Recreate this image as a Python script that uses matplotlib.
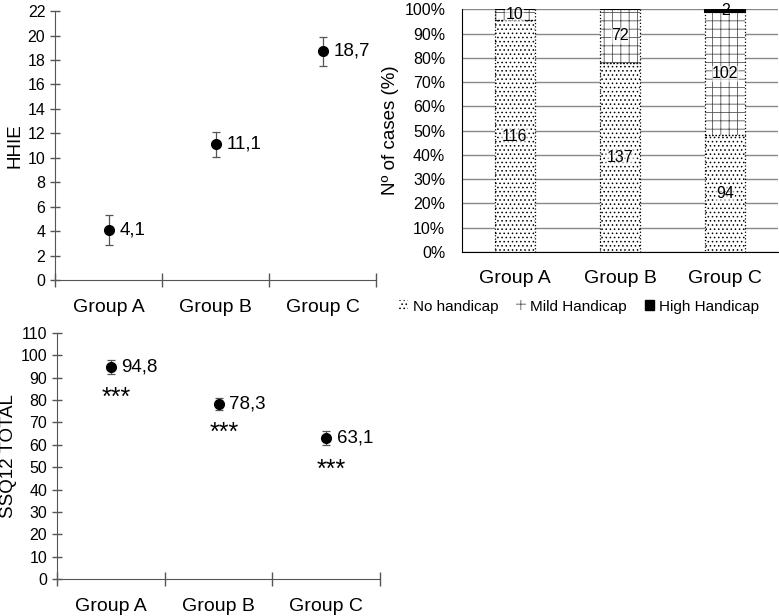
import numpy as np
import matplotlib
matplotlib.use('agg')
import matplotlib.pyplot as plt
from matplotlib.patches import Patch

plt.rcParams['font.family'] = ['Liberation Sans', 'DejaVu Sans']
plt.rcParams['hatch.linewidth'] = 0.6

groups = ['Group A', 'Group B', 'Group C']

# HHIE means and error
hhie_mean = [4.1, 11.1, 18.7]
hhie_err = [1.2, 1.0, 1.2]
hhie_lbl = ['4,1', '11,1', '18,7']

# SSQ12 total
ssq_mean = [94.8, 78.3, 63.1]
ssq_err = [3.0, 2.6, 3.0]
ssq_lbl = ['94,8', '78,3', '63,1']
ssq_star = [81, 65.5, 49]

# stacked percentages and case counts
pct_none = [95.5, 78.0, 48.0]
pct_mild = [4.5, 22.0, 51.0]
pct_high = [0.0, 0.0, 1.0]
n_none = ['116', '137', '94']
n_mild = ['10', '72', '102']
n_high = ['', '', '2']

fs_tick = 11.5
fs_grp = 14

fig = plt.figure(figsize=(7.79, 6.16), dpi=100)


def point_panel(ax, mean, err, lbls, ymax, ystep, ylabel):
    x = np.arange(len(groups)) + 0.5
    ax.errorbar(x, mean, yerr=err, fmt='o', color='k', ms=7,
                ecolor='#555555', elinewidth=0.9, capsize=3, capthick=0.9)
    for xi, yi, t in zip(x, mean, lbls):
        ax.text(xi + 0.1, yi, t, fontsize=13.5, va='center', ha='left')
    ax.set_xlim(0, 3)
    ax.set_ylim(0, ymax)
    ax.set_yticks(np.arange(0, ymax + 0.1, ystep))
    ax.set_xticks([0, 1, 2, 3])
    ax.set_xticklabels([])
    ax.set_xticks(x, minor=True)
    ax.set_xticklabels(groups, minor=True, fontsize=fs_grp)
    ax.tick_params(axis='x', which='minor', length=0, pad=14)
    ax.tick_params(axis='x', which='major', direction='inout', length=10,
                   color='#555555', width=1)
    ax.tick_params(axis='y', direction='inout', length=7, color='#555555',
                   width=1, labelsize=fs_tick)
    for s in ['top', 'right']:
        ax.spines[s].set_visible(False)
    for s in ['left', 'bottom']:
        ax.spines[s].set_color('#555555')
    ax.set_ylabel(ylabel, fontsize=13.5, labelpad=3)


ax1 = fig.add_axes([0.0706, 0.5455, 0.4121, 0.4365])
point_panel(ax1, hhie_mean, hhie_err, hhie_lbl, 22, 2, 'HHIE')

ax2 = fig.add_axes([0.0732, 0.06, 0.4146, 0.3994])
point_panel(ax2, ssq_mean, ssq_err, ssq_lbl, 110, 10, 'SSQ12 TOTAL')
for xi, yi in zip(np.arange(3) + 0.55, ssq_star):
    ax2.text(xi, yi, '***', fontsize=18, ha='center', va='center')

# stacked bar panel
ax3 = fig.add_axes([0.593, 0.591, 0.4057, 0.394])
xb = np.arange(3)
w = 0.38
bot = np.array(pct_none) + np.array(pct_mild)
# hatch fills (pattern only, no outline)
ax3.bar(xb, pct_none, w, color='white', edgecolor='k', hatch='....',
        linewidth=0, zorder=3)
ax3.bar(xb, pct_mild, w, bottom=pct_none, color='white', edgecolor='#555555',
        hatch='++', linewidth=0, zorder=3)
# dotted outlines
ax3.bar(xb, pct_none, w, fill=False, edgecolor='k', linestyle=':',
        linewidth=0.9, zorder=3)
ax3.bar(xb, pct_mild, w, bottom=pct_none, fill=False, edgecolor='k',
        linestyle=':', linewidth=0.9, zorder=3)
ax3.bar(xb, pct_high, w, bottom=bot, color='k', edgecolor='k',
        linewidth=1.5, zorder=3)
for i in range(3):
    ax3.text(xb[i], pct_none[i] / 2, n_none[i], ha='center', va='center',
             fontsize=11.5, zorder=4,
             bbox=dict(facecolor='white', edgecolor='none', pad=0.3, alpha=0.6))
    ax3.text(xb[i], pct_none[i] + pct_mild[i] / 2, n_mild[i], ha='center',
             va='center', fontsize=11.5, zorder=4,
             bbox=dict(facecolor='white', edgecolor='none', pad=0.3, alpha=0.6))
    if n_high[i]:
        ax3.text(xb[i], 99.3, n_high[i], ha='center', va='center',
                 fontsize=11.5, zorder=4)
ax3.set_xlim(-0.5, 2.5)
ax3.set_ylim(0, 100)
ax3.set_yticks(np.arange(0, 101, 10))
ax3.set_yticklabels(['%d%%' % v for v in range(0, 101, 10)])
ax3.set_xticks(xb)
ax3.set_xticklabels(groups, fontsize=fs_grp)
ax3.tick_params(axis='x', length=0, pad=13)
ax3.tick_params(axis='y', length=0, labelsize=fs_tick, pad=12)
ax3.grid(axis='y', color='#888888', linewidth=1, zorder=0)
for s in ['top', 'right']:
    ax3.spines[s].set_visible(False)
ax3.spines['bottom'].set_zorder(5)
ax3.set_ylabel('Nº of cases (%)', fontsize=13.5, labelpad=4)

handles = [Patch(facecolor='white', edgecolor='k', hatch='....', linewidth=0),
           Patch(facecolor='white', edgecolor='#555555', hatch='++', linewidth=0),
           Patch(facecolor='k', edgecolor='k')]
ax3.legend(handles, ['No handicap', 'Mild Handicap', 'High Handicap'],
           loc='center', bbox_to_anchor=(0.37, -0.225), ncol=3,
           frameon=False, fontsize=11, handlelength=0.6, handleheight=0.6,
           handletextpad=0.3, columnspacing=1.2)

fig.savefig('out.png', dpi=100)
